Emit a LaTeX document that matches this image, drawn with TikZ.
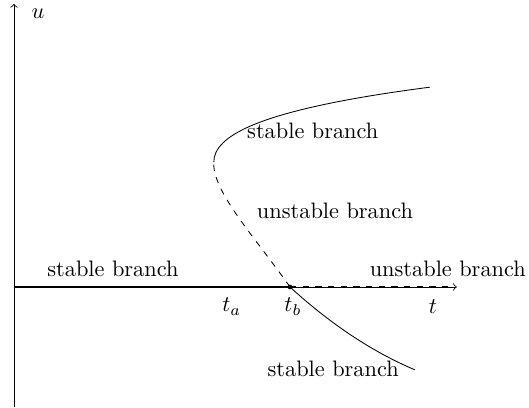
\documentclass[tikz,border=0pt]{standalone}
\usepackage{amsmath, amssymb}
\usetikzlibrary{calc}

\begin{document}
\begin{tikzpicture}[branch/.style={black}, trivial/.style={black, line width=1.3pt},
                every node/.style={scale=1.06}]
                \useasboundingbox (-0.233,-2) rectangle (8.583,4.783);
                \coordinate (O) at (0,0);
                \coordinate (U) at (0,4.72);
                \coordinate (D) at (0,-2);
                \coordinate (T) at (7.38,0);
                \coordinate (B) at (4.6,0);
                \coordinate (E) at (7.3,0);
                \coordinate (N) at (3.33,2.08);
                \coordinate (P) at (6.93,3.33);
                \coordinate (Q) at (6.68,-1.38);
                \draw[->] (D) -- (U);
                \draw[->] (O) -- (T);
                \draw[trivial] (O) -- (B);
                \draw[trivial, dashed] (B) -- (E);
                \draw[branch, dashed] (B) .. controls (4.0,0.85) and (3.3,1.6) .. (N);
                \draw[branch] (N) .. controls (3.33,2.5) and (4.0,2.95) .. (P);
                \draw[branch] (B) .. controls (5.2,-0.55) and (5.9,-1.05) .. (Q);
                \fill (B) circle (1.1pt);
                \node at (0.4,4.55) {$u$};
                \node at (3.63,-0.33) {$t_a$};
                \node at (4.65,-0.33) {$t_b$};
                \node at (6.98,-0.33) {$t$};
                \node at (4.98,2.6) {stable branch};
                \node at (5.35,1.27) {unstable branch};
                \node at (1.65,0.3) {stable branch};
                \node at (7.23,0.3) {unstable branch};
                \node at (5.32,-1.37) {stable branch};
            \end{tikzpicture}
\end{document}
